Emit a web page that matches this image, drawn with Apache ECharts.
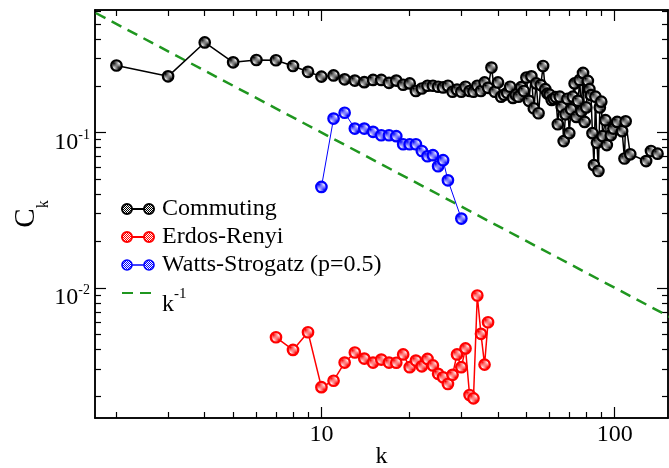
<!DOCTYPE html>
<html><head><meta charset="utf-8">
<script src="https://cdn.jsdelivr.net/npm/echarts@6/dist/echarts.min.js"></script>
<style>html,body{margin:0;padding:0;background:#fff}#c{width:669px;height:468px}</style>
</head><body><div id="c"></div>
<script>
// ---- data ----
const commutingK = [2,3,4,5,6,7,8,9,10,11,12,13,14,15,16,17,18,19,20,21,22,23,24,25,26,27,28,29,30,31,32,33,34,35,36,37,38,39,40,41,42,43,44,45,46,47,48,49,50,51,52,53,54,55,56,57,58,59,60,61,62,63,64,65,66,67,68,69,70,71,72,73,74,75,76,77,78,79,80,81,82,83,84,85,86,87,88,89,90,91,93,94,97,99,102,106,108,109,113,128,133,140];
const commutingC = [0.27,0.23,0.38,0.283,0.293,0.292,0.268,0.246,0.229,0.233,0.22,0.216,0.211,0.218,0.218,0.209,0.216,0.203,0.207,0.185,0.192,0.2,0.2,0.197,0.195,0.2,0.183,0.189,0.183,0.197,0.185,0.183,0.2,0.185,0.21,0.194,0.262,0.183,0.21,0.17,0.175,0.18,0.197,0.167,0.175,0.17,0.196,0.185,0.226,0.16,0.23,0.143,0.207,0.133,0.202,0.268,0.19,0.178,0.175,0.162,0.165,0.169,0.113,0.17,0.146,0.088,0.131,0.165,0.099,0.141,0.17,0.207,0.126,0.16,0.218,0.137,0.242,0.117,0.145,0.215,0.19,0.174,0.099,0.0616,0.17,0.086,0.0565,0.145,0.158,0.0947,0.12,0.083,0.096,0.106,0.117,0.102,0.068,0.118,0.0724,0.0655,0.076,0.073];
const erK = [7,8,9,10,11,12,13,14,15,16,17,18,19,20,21,22,23,24,25,26,27,28,29,30,31,32,33,34,35,36,37];
const erC = [0.0048,0.00398,0.00517,0.00229,0.00252,0.0033,0.00383,0.0035,0.0033,0.00345,0.0033,0.00329,0.00372,0.00308,0.0034,0.00312,0.00348,0.00316,0.00279,0.00265,0.0024,0.00275,0.00372,0.00308,0.00407,0.00204,0.00194,0.00892,0.00505,0.0032,0.006];
const wsK = [10,11,12,13,14,15,16,17,18,19,20,21,22,23,24,25,26,27,30];
const wsC = [0.0446,0.123,0.134,0.106,0.106,0.101,0.096,0.096,0.0947,0.084,0.084,0.084,0.076,0.0703,0.0714,0.0606,0.0663,0.0492,0.0279];
const refK = [1.5, 200];
const refC = [0.6667, 0.005];
const seriesNames = ['Commuting','Erdos-Renyi','Watts-Strogatz (p=0.5)','k-1'];
const xMajor = [10, 100];
const xMinor = [2,3,4,5,6,7,8,9,20,30,40,50,60,70,80,90];
const yMajor = [0.01, 0.1];
const yMinor = [0.002,0.003,0.004,0.005,0.006,0.007,0.008,0.009,0.02,0.03,0.04,0.05,0.06,0.07,0.08,0.09,0.2,0.3,0.4,0.5,0.6];
const xRange = [1.69, 152];
const yRange = [0.00145, 0.615];

// ---- styling helpers ----
const FONT = 'Liberation Serif';
const GREEN = '#1f961f';
function pattern(color){
  const c = document.createElement('canvas'); c.width = 2; c.height = 2;
  const g = c.getContext('2d');
  g.fillStyle = '#fff'; g.fillRect(0,0,2,2);
  g.fillStyle = color; g.fillRect(0,0,1,1); g.fillRect(1,1,1,1);
  return {image: c, repeat: 'repeat'};
}
const zip = (a,b) => a.map((v,i) => [v, b[i]]);
const twoCircles = 'path://M0,5A5,5 0 1,1 10,5A5,5 0 1,1 0,5ZM22,5A5,5 0 1,1 32,5A5,5 0 1,1 22,5ZM10,5L22,5';

function xAx(pos, values, len, showLabel){
  return {
    type:'log', position: pos, min: xRange[0], max: xRange[1],
    axisLine:{show:true, onZero:false, lineStyle:{color:'#000', width:1.5}},
    axisTick:{show:true, inside:true, length:len, customValues: values, lineStyle:{color:'#000', width:1.2}},
    axisLabel:{show: showLabel, customValues: values, margin:5, fontFamily:FONT, fontSize:24, color:'#000',
      formatter: v => String(Math.round(v))},
    splitLine:{show:false}, minorTick:{show:false}, minorSplitLine:{show:false},
    name: showLabel ? 'k' : '', nameLocation:'middle', nameGap:27, nameMoveOverlap:false,
    nameTextStyle:{fontFamily:FONT, fontSize:24, color:'#000'}
  };
}
function yAx(pos, values, len, showLabel){
  return {
    type:'log', position: pos, min: yRange[0], max: yRange[1],
    axisLine:{show:true, onZero:false, lineStyle:{color:'#000', width:1.5}},
    axisTick:{show:true, inside:true, length:len, customValues: values, lineStyle:{color:'#000', width:1.2}},
    axisLabel:{show: showLabel, customValues: values, margin:5, color:'#000',
      formatter: v => '{b|10}{s|' + Math.round(Math.log10(v)) + '}',
      rich:{
        b:{fontFamily:FONT, fontSize:24, lineHeight:24, color:'#000', verticalAlign:'top', padding:[10,0,0,0]},
        s:{fontFamily:FONT, fontSize:14, lineHeight:14, color:'#000', verticalAlign:'top', padding:[8,0,0,0]}
      }},
    splitLine:{show:false}, minorTick:{show:false}, minorSplitLine:{show:false},
    name: showLabel ? '{c|C}{s|k}' : '', nameLocation:'middle', nameGap:54, nameRotate:90, nameMoveOverlap:false,
    nameTextStyle:{color:'#000', rich:{
      c:{fontFamily:FONT, fontSize:29, lineHeight:29, color:'#000', verticalAlign:'top'},
      s:{fontFamily:FONT, fontSize:16, lineHeight:16, color:'#000', verticalAlign:'top', padding:[24,0,0,0]}
    }}
  };
}

const chart = echarts.init(document.getElementById('c'), null, {renderer:'canvas'});
chart.setOption({
  animation:false,
  backgroundColor:'#fff',
  grid:{left:95, top:10, right:1, bottom:50, containLabel:false, outerBoundsMode:'none'},
  xAxis:[xAx('bottom', xMajor, 11, true), xAx('bottom', xMinor, 6, false), xAx('top', xMajor, 11, false), xAx('top', xMinor, 6, false)],
  yAxis:[yAx('left', yMajor, 11, true), yAx('left', yMinor, 6, false), yAx('right', yMajor, 11, false), yAx('right', yMinor, 6, false)],
  legend:{
    orient:'vertical', left:121, top:197, padding:0, itemGap:4, itemWidth:32, itemHeight:10,
    selectedMode:false,
    textStyle:{fontFamily:FONT, fontSize:24, lineHeight:24, color:'#000', padding:[0,0,0,3],
      rich:{
        k:{fontFamily:FONT, fontSize:24, lineHeight:24, color:'#000', verticalAlign:'top', padding:[12,0,0,0]},
        s:{fontFamily:FONT, fontSize:15, lineHeight:15, color:'#000', verticalAlign:'top', padding:[6,0,0,0]}
      }},
    formatter: n => n === 'k-1' ? '{k|k}{s|-1}' : n,
    data:[
      {name:seriesNames[0], icon:twoCircles, itemStyle:{color:pattern('#000'), borderColor:'#000', borderWidth:2}},
      {name:seriesNames[1], icon:twoCircles, itemStyle:{color:pattern('#ff0000'), borderColor:'#ff0000', borderWidth:2}},
      {name:seriesNames[2], icon:twoCircles, itemStyle:{color:pattern('#0000ff'), borderColor:'#0000ff', borderWidth:1.6}},
      {name:seriesNames[3], itemStyle:{opacity:0}}
    ]
  },
  series:[
    {name:seriesNames[3], type:'line', data:zip(refK, refC), symbol:'none', silent:true,
     lineStyle:{color:GREEN, width:2.5, type:[11,7]}, itemStyle:{color:GREEN}, z:1},
    {name:seriesNames[2], type:'line', data:zip(wsK, wsC), symbol:'circle', symbolSize:10.5,
     lineStyle:{color:'#0000ff', width:1}, itemStyle:{color:pattern('#0000ff'), borderColor:'#0000ff', borderWidth:2.2}, z:2},
    {name:seriesNames[1], type:'line', data:zip(erK, erC), symbol:'circle', symbolSize:10.5,
     lineStyle:{color:'#ff0000', width:1.5}, itemStyle:{color:pattern('#ff0000'), borderColor:'#ff0000', borderWidth:2.2}, z:3},
    {name:seriesNames[0], type:'line', data:zip(commutingK, commutingC), symbol:'circle', symbolSize:10.5,
     lineStyle:{color:'#000', width:1.5}, itemStyle:{color:pattern('#000'), borderColor:'#000', borderWidth:2.2}, z:4}
  ]
});
</script></body></html>
